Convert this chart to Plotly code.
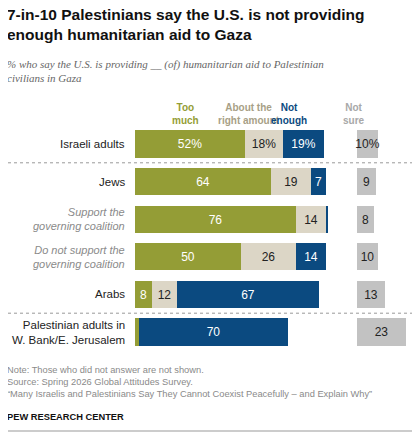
import plotly.graph_objects as go

groups = ["Israeli adults", "Jews", "Support the<br>governing coalition",
          "Do not support the<br>governing coalition", "Arabs",
          "Palestinian adults in<br>W. Bank/E. Jerusalem"]
too_much = [52, 64, 76, 50, 8, 2]
right_amount = [18, 19, 14, 26, 12, 0]
not_enough = [19, 7, 1, 14, 67, 70]
not_sure = [10, 9, 8, 10, 13, 23]
italic_rows = [2, 3]

OLIVE = "#949d36"
BEIGE = "#dcd6c6"
BLUE = "#0b4a80"
GRAY = "#c2c2c2"

# page body adds an 8px margin; work in reference pixels and subtract it
OFF = 8
W, H = 420 - OFF, 440 - OFF
PX_PER = 2.12
X0 = 135 - OFF
NS_BASE = (357 - 135) / PX_PER
ROW_PX = 37.6
Y0 = 144 - OFF


def px(x):
    return (x - OFF) / W


def py(y):
    return 1 - (y - OFF) / H


def lbl(vals, min_val=3):
    out = []
    for i, v in enumerate(vals):
        if v < min_val:
            out.append("")
        elif i == 0:
            out.append(f"{v}%")
        else:
            out.append(str(v))
    return out


rows = list(range(len(groups)))
fig = go.Figure()
series = [
    (too_much, OLIVE, "white"),
    (right_amount, BEIGE, "#222"),
    (not_enough, BLUE, "white"),
]
base = [0] * len(groups)
for vals, col, tcol in series:
    fig.add_trace(go.Bar(
        y=rows, x=vals, base=base, orientation="h", width=0.72,
        marker=dict(color=col, line=dict(width=0)),
        text=lbl(vals), textposition="inside", insidetextanchor="middle",
        constraintext="none", textangle=0,
        textfont=dict(color=tcol, size=12, family="Arial"),
        hoverinfo="skip",
    ))
    base = [b + v for b, v in zip(base, vals)]

fig.add_trace(go.Bar(
    y=rows, x=not_sure, base=[NS_BASE] * len(groups), orientation="h", width=0.72,
    marker=dict(color=GRAY, line=dict(width=0)),
    text=lbl(not_sure), textposition="inside", insidetextanchor="middle",
    constraintext="none", textangle=0,
    textfont=dict(color="#222", size=12, family="Arial"), hoverinfo="skip",
))

for i, g in enumerate(groups):
    it = i in italic_rows
    fig.add_annotation(
        x=px(127), xref="paper", y=i, yref="y", text=f"<i>{g}</i>" if it else g,
        xanchor="right", showarrow=False, align="right",
        font=dict(size=11.5 if not it else 11, color="#8a8a8a" if it else "#222",
                  family="Arial"),
    )

for yy in [0.5, 4.5]:
    fig.add_shape(type="line", xref="paper", x0=0, x1=1, yref="y", y0=yy, y1=yy,
                  line=dict(color="#999", width=1, dash="dot"))

headers = [("Too<br>much", 185, OLIVE), ("About the<br>right amount", 249, "#a89f86"),
           ("Not<br>enough", 309, BLUE), ("Not<br>sure", 367, "#a8a8a8")]
for t, hx, c in headers:
    fig.add_annotation(x=px(hx), xref="paper", y=py(114), yref="paper",
                       text=f"<b>{t}</b>", showarrow=False, yanchor="middle",
                       font=dict(size=10, color=c, family="Arial"))

fig.add_annotation(x=px(5), xref="paper", y=py(4), yref="paper", xanchor="left",
                   yanchor="top", align="left", showarrow=False,
                   text="<b>7-in-10 Palestinians say the U.S. is not providing<br>enough humanitarian aid to Gaza</b>",
                   font=dict(size=15.5, color="#111", family="Arial"))
fig.add_annotation(x=px(5), xref="paper", y=py(56), yref="paper", xanchor="left",
                   yanchor="top", align="left", showarrow=False,
                   text="<i>% who say the U.S. is providing __ (of) humanitarian aid to Palestinian<br>civilians in Gaza</i>",
                   font=dict(size=11, color="#666", family="Georgia, serif"))
fig.add_annotation(x=px(5), xref="paper", y=py(363), yref="paper", xanchor="left",
                   yanchor="top", align="left", showarrow=False,
                   text="Note: Those who did not answer are not shown.<br>Source: Spring 2026 Global Attitudes Survey.<br>\u201cMany Israelis and Palestinians Say They Cannot Coexist Peacefully \u2013 and Explain Why\u201d",
                   font=dict(size=9.3, color="#8a8a8a", family="Arial"))
fig.add_annotation(x=px(5), xref="paper", y=py(410), yref="paper", xanchor="left",
                   yanchor="top", showarrow=False, text="<b>PEW RESEARCH CENTER</b>",
                   font=dict(size=9.3, color="#111", family="Arial"))
fig.add_shape(type="line", xref="paper", x0=0, x1=1, yref="paper",
              y0=py(431), y1=py(431), line=dict(color="#999", width=1))

fig.update_layout(
    width=W, height=H, margin=dict(l=0, r=0, t=0, b=0),
    barmode="overlay", showlegend=False, bargap=0,
    plot_bgcolor="white", paper_bgcolor="white",
    xaxis=dict(range=[-X0 / PX_PER, (W - X0) / PX_PER], visible=False, fixedrange=True),
    yaxis=dict(range=[(H - Y0) / ROW_PX, -Y0 / ROW_PX], visible=False, fixedrange=True),
)
fig.write_html("out.html")
